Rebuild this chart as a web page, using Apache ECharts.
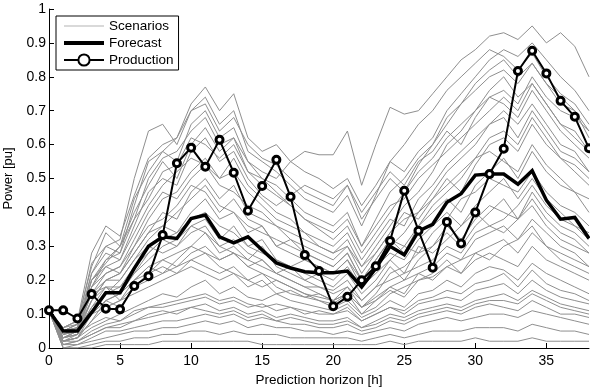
<!DOCTYPE html>
<html>
<head>
<meta charset="utf-8">
<script src="https://cdn.jsdelivr.net/npm/echarts@6/dist/echarts.min.js"></script>
<style>
  html, body { margin: 0; padding: 0; background: #fff; }
  #chart { width: 590px; height: 390px; }
</style>
</head>
<body>
<div id="chart"></div>
<script>
// Prediction horizon in hours, 0..38
const hours = Array.from({ length: 39 }, (_, i) => i);

// Point forecast of wind power
const forecast = [
  0.11, 0.05, 0.05, 0.105, 0.163, 0.163, 0.235, 0.30, 0.328, 0.323,
  0.382, 0.392, 0.328, 0.31, 0.328, 0.289, 0.251, 0.236, 0.225, 0.222,
  0.222, 0.227, 0.18, 0.235, 0.30, 0.275, 0.345, 0.365, 0.43, 0.455,
  0.51, 0.513, 0.513, 0.483, 0.523, 0.436, 0.38, 0.385, 0.323
];

// Measured production
const production = [
  0.111, 0.111, 0.087, 0.159, 0.116, 0.114, 0.183, 0.212, 0.333, 0.545,
  0.591, 0.535, 0.614, 0.517, 0.405, 0.478, 0.555, 0.446, 0.274, 0.227,
  0.123, 0.151, 0.20, 0.241, 0.316, 0.464, 0.346, 0.237, 0.372, 0.308,
  0.40, 0.513, 0.588, 0.817, 0.877, 0.81, 0.729, 0.682, 0.589
];

// Probabilistic scenarios
const scenario01 = [.11,.06,.08,.28,.36,.33,.45,.56,.60,.62, .72,.77,.70,.75,.62,.58,.60,.55,.52,.50, .47,.50,.42,.48,.55,.52,.58,.62,.70,.75, .80,.85,.88,.86,.90,.85,.80,.76,.70];
const scenario02 = [.11,.04,.06,.20,.25,.30,.40,.48,.55,.50, .60,.65,.58,.62,.55,.52,.50,.55,.58,.57, .57,.64,.48,.60,.71,.69,.70,.75,.80,.85, .88,.92,.93,.91,.95,.90,.93,.89,.80];
const scenario03 = [.11,.03,.05,.22,.30,.32,.50,.64,.66,.60, .70,.74,.66,.70,.58,.55,.52,.48,.44,.42, .40,.45,.36,.45,.55,.60,.66,.70,.76,.80, .84,.88,.86,.82,.87,.80,.75,.72,.66];
const scenario04 = [.11,.05,.07,.25,.30,.28,.42,.55,.58,.55, .66,.70,.62,.65,.55,.50,.48,.44,.40,.38, .36,.40,.30,.38,.46,.50,.56,.60,.66,.72, .78,.82,.85,.80,.84,.78,.72,.70,.62];
const scenario05 = [.11,.02,.04,.18,.26,.30,.38,.50,.56,.58, .64,.68,.60,.62,.52,.48,.45,.42,.38,.35, .32,.36,.28,.34,.40,.46,.52,.56,.62,.66, .70,.76,.80,.74,.78,.72,.66,.64,.58];
const scenario06 = [.11,.04,.06,.20,.24,.26,.36,.46,.50,.48, .58,.62,.55,.58,.50,.45,.42,.45,.48,.46, .44,.48,.40,.46,.52,.48,.55,.58,.64,.60, .68,.74,.76,.72,.80,.74,.70,.68,.64];
const scenario07 = [.11,.05,.06,.16,.22,.24,.30,.38,.44,.46, .52,.56,.50,.52,.46,.42,.38,.36,.34,.32, .30,.34,.26,.32,.38,.36,.44,.48,.54,.58, .62,.66,.70,.66,.72,.66,.60,.58,.52];
const scenario08 = [.11,.03,.05,.14,.20,.22,.28,.34,.40,.38, .46,.50,.44,.48,.40,.38,.36,.32,.30,.28, .26,.30,.22,.28,.34,.40,.38,.44,.50,.46, .54,.60,.62,.58,.66,.60,.56,.52,.48];
const scenario09 = [.11,.06,.08,.18,.24,.22,.30,.36,.38,.42, .48,.46,.40,.44,.38,.36,.30,.28,.26,.24, .22,.26,.18,.24,.30,.34,.40,.44,.48,.52, .56,.58,.55,.52,.60,.54,.50,.46,.44];
const scenario10 = [.11,.02,.03,.10,.16,.20,.26,.32,.36,.34, .40,.44,.38,.40,.34,.36,.30,.32,.28,.26, .24,.28,.20,.26,.32,.28,.36,.40,.44,.40, .48,.52,.56,.50,.58,.52,.48,.46,.40];
const scenario11 = [.11,.04,.05,.12,.18,.18,.24,.28,.32,.34, .38,.40,.36,.34,.30,.32,.26,.24,.22,.20, .18,.22,.16,.20,.26,.30,.28,.34,.38,.44, .46,.50,.48,.46,.52,.46,.42,.40,.36];
const scenario12 = [.11,.03,.04,.14,.18,.16,.22,.26,.30,.32, .36,.38,.32,.36,.30,.28,.26,.24,.26,.24, .22,.26,.20,.24,.28,.26,.32,.36,.40,.36, .42,.46,.50,.44,.50,.44,.40,.36,.34];
const scenario13 = [.11,.05,.06,.14,.20,.20,.26,.30,.28,.30, .34,.36,.30,.32,.28,.26,.22,.20,.18,.16, .14,.18,.12,.16,.22,.24,.28,.30,.36,.32, .38,.42,.40,.38,.46,.40,.36,.34,.30];
const scenario14 = [.11,.02,.03,.08,.14,.16,.20,.24,.26,.28, .30,.34,.28,.30,.26,.24,.22,.24,.20,.18, .17,.20,.14,.18,.24,.20,.26,.30,.34,.30, .36,.40,.44,.38,.44,.38,.34,.32,.28];
const scenario15 = [.11,.04,.05,.12,.16,.18,.22,.28,.32,.30, .36,.34,.30,.28,.26,.30,.24,.22,.20,.22, .20,.24,.18,.22,.26,.22,.30,.28,.32,.36, .40,.36,.38,.42,.48,.42,.38,.36,.32];
const scenario16 = [.11,.06,.07,.16,.18,.14,.20,.22,.26,.24, .28,.30,.26,.28,.24,.22,.20,.18,.16,.14, .13,.16,.10,.14,.18,.16,.22,.24,.28,.26, .32,.34,.36,.32,.38,.34,.30,.28,.24];
const scenario17 = [.11,.03,.04,.10,.14,.12,.18,.20,.22,.24, .26,.28,.24,.22,.20,.22,.18,.16,.15,.14, .12,.14,.10,.12,.16,.18,.20,.22,.26,.22, .28,.30,.32,.28,.34,.30,.26,.24,.22];
const scenario18 = [.11,.05,.06,.10,.12,.14,.16,.18,.20,.22, .24,.22,.20,.22,.18,.20,.16,.17,.15,.16, .14,.16,.12,.14,.17,.15,.20,.21,.24,.22, .26,.28,.26,.24,.30,.26,.24,.22,.20];
const scenario19 = [.11,.02,.03,.06,.08,.10,.12,.14,.16,.15, .18,.20,.16,.18,.15,.14,.16,.14,.13,.12, .11,.13,.09,.11,.14,.12,.16,.17,.20,.18, .22,.24,.23,.20,.25,.22,.20,.18,.16];
const scenario20 = [.11,.01,.02,.05,.07,.08,.10,.12,.13,.14, .15,.16,.14,.15,.13,.12,.13,.12,.11,.10, .10,.11,.08,.10,.12,.11,.14,.15,.17,.16, .19,.20,.22,.18,.23,.19,.17,.16,.14];
const scenario21 = [.11,.03,.04,.07,.09,.08,.11,.12,.12,.13, .14,.15,.13,.14,.12,.13,.11,.12,.10,.11, .10,.12,.08,.10,.12,.10,.13,.14,.15,.14, .17,.18,.19,.16,.20,.17,.15,.14,.13];
const scenario22 = [.11,.02,.02,.04,.06,.07,.08,.10,.11,.10, .12,.13,.11,.12,.10,.11,.09,.10,.09,.08, .08,.09,.06,.08,.10,.09,.11,.12,.13,.12, .14,.15,.16,.14,.17,.15,.13,.12,.11];
const scenario23 = [.11,.01,.01,.03,.05,.05,.06,.07,.08,.08, .09,.10,.09,.10,.08,.09,.08,.07,.07,.06, .06,.07,.05,.06,.08,.07,.09,.10,.11,.10, .12,.13,.12,.11,.14,.12,.10,.10,.09];
const scenario24 = [.11,.00,.01,.02,.03,.04,.05,.05,.06,.06, .07,.08,.07,.08,.06,.07,.06,.06,.05,.05, .04,.05,.04,.05,.06,.05,.07,.08,.09,.08, .09,.10,.10,.09,.11,.10,.09,.08,.07];
const scenario25 = [.11,.00,.00,.01,.02,.02,.03,.03,.04,.04, .05,.05,.04,.05,.04,.04,.04,.03,.03,.03, .03,.03,.02,.03,.04,.03,.04,.05,.05,.05, .06,.06,.06,.05,.07,.06,.05,.05,.04];
const scenario26 = [.11,.00,.00,.00,.01,.01,.01,.01,.02,.02, .02,.02,.02,.02,.02,.01,.01,.01,.01,.01, .01,.01,.01,.01,.02,.01,.02,.02,.02,.02, .03,.02,.02,.02,.03,.02,.02,.02,.02];
const scenario27 = [.11,.05,.07,.22,.28,.26,.34,.42,.48,.52, .56,.54,.50,.56,.48,.44,.40,.38,.34,.30, .28,.32,.24,.30,.36,.42,.46,.52,.60,.64, .70,.74,.72,.68,.76,.70,.64,.60,.56];
const scenario28 = [.11,.04,.06,.18,.22,.24,.32,.40,.46,.44, .50,.54,.48,.46,.42,.40,.36,.34,.32,.30, .28,.30,.24,.28,.34,.38,.40,.46,.52,.56, .60,.66,.68,.62,.70,.64,.58,.56,.52];
const scenario29 = [.11,.03,.05,.16,.20,.22,.28,.34,.36,.40, .44,.48,.42,.40,.36,.34,.32,.30,.28,.26, .24,.28,.20,.26,.32,.30,.36,.42,.46,.50, .56,.62,.64,.60,.68,.62,.56,.54,.50];
const scenario30 = [.11,.06,.08,.24,.34,.30,.44,.52,.58,.62, .70,.72,.64,.68,.60,.56,.54,.50,.46,.44, .42,.48,.38,.44,.50,.46,.54,.60,.68,.72, .76,.80,.82,.78,.84,.78,.74,.70,.64];
const scenario31 = [.11,.02,.03,.08,.12,.14,.18,.22,.24,.22, .26,.24,.22,.24,.20,.18,.20,.18,.16,.15, .14,.16,.12,.15,.18,.20,.22,.20,.24,.26, .28,.26,.30,.32,.36,.30,.28,.26,.24];
const scenario32 = [.11,.04,.05,.10,.14,.16,.20,.24,.22,.26, .30,.28,.26,.28,.24,.26,.22,.20,.18,.18, .16,.18,.14,.18,.20,.22,.24,.26,.30,.28, .34,.36,.34,.38,.42,.36,.32,.30,.28];
const scenario33 = [.11,.01,.02,.04,.06,.06,.08,.09,.10,.11, .12,.11,.10,.11,.09,.10,.08,.09,.08,.07, .07,.08,.06,.07,.09,.08,.10,.11,.12,.11, .13,.14,.14,.13,.16,.14,.12,.11,.10];
const scenario34 = [.11,.05,.07,.20,.26,.28,.38,.44,.52,.54, .62,.60,.56,.60,.52,.50,.46,.42,.38,.36, .34,.38,.30,.36,.42,.44,.50,.54,.58,.62, .66,.70,.74,.70,.78,.72,.66,.62,.58];

const scenarios = [
  scenario01, scenario02, scenario03, scenario04, scenario05, scenario06, scenario07,
  scenario08, scenario09, scenario10, scenario11, scenario12, scenario13, scenario14,
  scenario15, scenario16, scenario17, scenario18, scenario19, scenario20, scenario21,
  scenario22, scenario23, scenario24, scenario25, scenario26, scenario27, scenario28,
  scenario29, scenario30, scenario31, scenario32, scenario33, scenario34
];

const yTicks = [0, 0.1, 0.2, 0.3, 0.4, 0.5, 0.6, 0.7, 0.8, 0.9, 1];

const FONT = 'Liberation Sans, Arial, Helvetica, sans-serif';
const pair = arr => arr.map((v, i) => [hours[i], v]);

const series = scenarios.map(s => ({
  name: 'Scenarios',
  type: 'line',
  data: pair(s),
  symbol: 'none',
  lineStyle: { color: '#8f8f8f', width: 1 },
  itemStyle: { color: '#8f8f8f' },
  silent: true,
  z: 1
}));

series.push({
  name: 'Forecast',
  type: 'line',
  data: pair(forecast),
  symbol: 'none',
  lineStyle: { color: '#000', width: 3.5, join: 'miter' },
  itemStyle: { color: '#000' },
  z: 3
});

series.push({
  name: 'Production',
  type: 'line',
  data: pair(production),
  symbol: 'circle',
  symbolSize: 7,
  showAllSymbol: true,
  lineStyle: { color: '#000', width: 2 },
  itemStyle: { color: '#fff', borderColor: '#000', borderWidth: 3 },
  z: 4
});

const chart = echarts.init(document.getElementById('chart'), null, { renderer: 'canvas' });
chart.setOption({
  animation: false,
  backgroundColor: '#fff',
  textStyle: { fontFamily: FONT },
  grid: { left: 49, right: 1, top: 9, bottom: 42, containLabel: false, outerBoundsMode: 'none' },
  legend: {
    show: true,
    data: [
      // thin and thick bars stand in for the plain line keys
      { name: 'Scenarios', icon: 'path://M0,0h40v1.2h-40z', itemStyle: { color: '#b4b4b4' } },
      { name: 'Forecast', icon: 'path://M0,0h40v4h-40z', itemStyle: { color: '#000' } },
      { name: 'Production' }
    ],
    orient: 'vertical',
    left: 56,
    top: 16,
    itemGap: 3,
    itemWidth: 40,
    itemHeight: 14,
    padding: [3, 5, 3, 7],
    borderColor: '#000',
    borderWidth: 1,
    backgroundColor: '#fff',
    textStyle: { fontFamily: FONT, fontSize: 13.5, color: '#000' },
    selectedMode: false,
    z: 10
  },
  xAxis: {
    type: 'value',
    min: 0,
    max: 38,
    interval: 5,
    name: 'Prediction horizon [h]',
    nameLocation: 'middle',
    nameGap: 25,
    nameTextStyle: { fontFamily: FONT, fontSize: 13.5, color: '#000' },
    axisLine: { show: true, onZero: false, lineStyle: { color: '#000', width: 1 } },
    axisTick: { show: true, inside: true, length: 5, lineStyle: { color: '#000' } },
    axisLabel: { fontFamily: FONT, fontSize: 14, color: '#000', margin: 6, showMaxLabel: false },
    splitLine: { show: false }
  },
  yAxis: {
    type: 'value',
    min: 0,
    max: 1,
    interval: 0.1,
    name: 'Power [pu]',
    nameLocation: 'middle',
    nameGap: 34,
    nameTextStyle: { fontFamily: FONT, fontSize: 13, color: '#000' },
    axisLine: { show: true, onZero: false, lineStyle: { color: '#000', width: 1 } },
    axisTick: { show: true, inside: true, length: 5, lineStyle: { color: '#000' } },
    axisLabel: {
      fontFamily: FONT, fontSize: 14, color: '#000', margin: 3,
      formatter: v => {
        const t = yTicks.find(y => Math.abs(y - v) < 1e-9);
        return t === undefined ? '' : String(t);
      }
    },
    splitLine: { show: false }
  },
  series
});
</script>
</body>
</html>
